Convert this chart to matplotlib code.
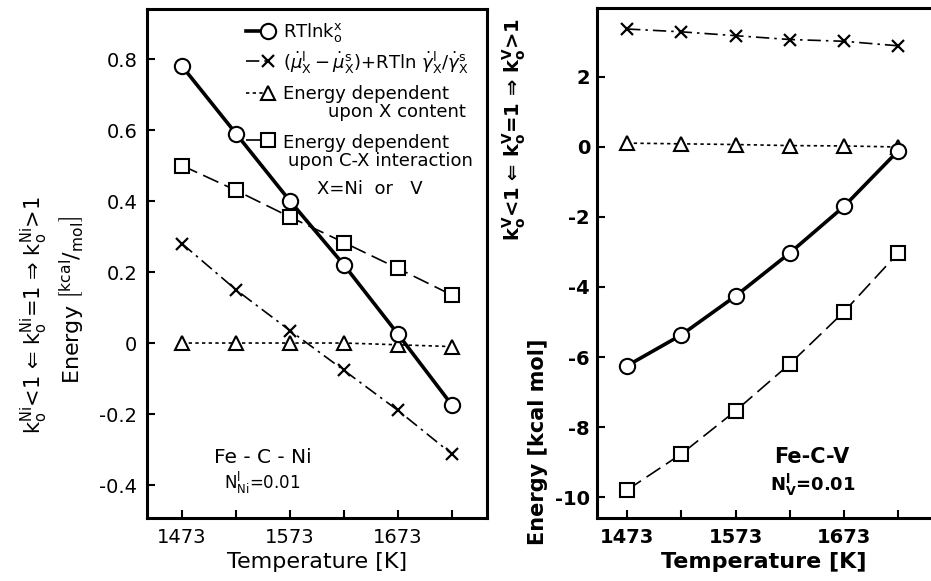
import matplotlib.pyplot as plt

plt.rcParams['font.family'] = ['DejaVu Sans']
plt.rcParams['mathtext.fontset'] = 'dejavusans'

temps = [1473, 1523, 1573, 1623, 1673, 1723]
x_ticklabels = ['1473', '', '1573', '', '1673', '']

# Fe-C-Ni, energies in kcal/mol
ni_rtlnk = [0.78, 0.59, 0.40, 0.22, 0.025, -0.175]
ni_chem = [0.28, 0.15, 0.035, -0.077, -0.19, -0.313]
ni_content = [0.0, 0.0, 0.0, 0.0, -0.005, -0.01]
ni_interact = [0.50, 0.43, 0.355, 0.283, 0.21, 0.135]
ni_yticks = [-0.4, -0.2, 0, 0.2, 0.4, 0.6, 0.8]
ni_yticklabels = ['-0.4', '-0.2', '0', '0.2', '0.4', '0.6', '0.8']

# Fe-C-V, energies in kcal/mol
v_rtlnk = [-6.25, -5.37, -4.26, -3.03, -1.70, -0.11]
v_chem = [3.37, 3.29, 3.18, 3.07, 3.02, 2.89]
v_content = [0.11, 0.09, 0.07, 0.04, 0.03, 0.0]
v_interact = [-9.80, -8.77, -7.54, -6.20, -4.71, -3.03]
v_yticks = [-10, -8, -6, -4, -2, 0, 2]
v_yticklabels = ['-10', '-8', '-6', '-4', '-2', '0', '2']

common = dict(color='black', mfc='white', mec='black', mew=1.5)
STYLES = {
    'rtlnk': dict(ls='-', lw=2.6, marker='o', ms=11),
    'chem': dict(ls=(0, (8, 3, 1.5, 3)), lw=1.2, marker='x', ms=8, mew=1.6),
    'content': dict(ls=(0, (2, 2)), lw=1.2, marker='^', ms=10),
    'interact': dict(ls=(0, (10, 4)), lw=1.2, marker='s', ms=10),
}


def style(key):
    s = dict(common)
    s.update(STYLES[key])
    return s


def setup_axes(ax, yticks, yticklabels, bold=False):
    weight = 'bold' if bold else 'normal'
    ax.set_xticks(temps)
    ax.set_xticklabels(x_ticklabels, fontsize=14, fontweight=weight)
    ax.set_yticks(yticks)
    ax.set_yticklabels(yticklabels, fontsize=14, fontweight=weight)
    ax.tick_params(direction='in', length=6, width=1.5, pad=7,
                   top=False, right=False)
    for sp in ax.spines.values():
        sp.set_linewidth(2.2)
    ax.set_xlabel('Temperature [K]', fontsize=16, fontweight=weight, labelpad=4)


fig = plt.figure(figsize=(9.31, 5.81), dpi=100)

# left panel: Fe-C-Ni
ax1 = fig.add_axes([0.1579, 0.1084, 0.3652, 0.8761])
ax1.plot(temps, ni_content, **style('content'), zorder=2)
ax1.plot(temps, ni_chem, **style('chem'), zorder=3)
ax1.plot(temps, ni_interact, **style('interact'), zorder=3)
ax1.plot(temps, ni_rtlnk, **style('rtlnk'), zorder=4)
ax1.set_xlim(1440.6, 1755.4)
ax1.set_ylim(-0.493, 0.941)
setup_axes(ax1, ni_yticks, ni_yticklabels)

ax1.text(0.341, 0.118, 'Fe - C - Ni', transform=ax1.transAxes,
         ha='center', va='center', fontsize=14.5)
ax1.text(0.338, 0.069, r'N$^{\mathrm{l}}_{\mathrm{Ni}}$=0.01', transform=ax1.transAxes,
         ha='center', va='center', fontsize=12)

# legend keys drawn inside the left panel
keys = [
    ('rtlnk', 0.957, [(0.40, 0.953, r'RTln$\mathrm{k}^{\mathrm{x}}_{\mathrm{o}}$')]),
    ('chem', 0.898, [(0.40, 0.895,
                      r'$(\dot{\mu}^{\mathrm{l}}_{\mathrm{X}}-\dot{\mu}^{\mathrm{s}}_{\mathrm{X}})$'
                      r'+RTln $\dot{\gamma}^{\mathrm{l}}_{\mathrm{X}}/\dot{\gamma}^{\mathrm{s}}_{\mathrm{X}}$')]),
    ('content', 0.835, [(0.40, 0.833, 'Energy dependent'),
                        (0.532, 0.797, 'upon X content')]),
    ('interact', 0.743, [(0.40, 0.737, 'Energy dependent'),
                         (0.415, 0.701, 'upon C-X interaction')]),
]
for key, ky, lines in keys:
    s = style(key)
    lw = s.pop('lw')
    ax1.plot([0.29, 0.355], [ky, ky], transform=ax1.transAxes, lw=lw,
             ls=s['ls'], color='black', clip_on=False, zorder=5)
    s.pop('ls')
    ax1.plot([0.355], [ky], transform=ax1.transAxes, ls='none', zorder=6, **s)
    for tx, ty, txt in lines:
        ax1.text(tx, ty, txt, transform=ax1.transAxes, ha='left', va='center',
                 fontsize=13)
ax1.text(0.656, 0.646, 'X=Ni  or   V', transform=ax1.transAxes,
         ha='center', va='center', fontsize=13)

fig.text(0.077, 1 - 300 / 581, r'Energy $\left[{}^{\mathrm{kcal}}/{}_{\mathrm{mol}}\right]$',
         rotation=90, ha='center', va='center', fontsize=16)
fig.text(0.037, 1 - 315 / 581,
         r'$\mathrm{k}^{\mathrm{Ni}}_{\mathrm{o}}$<1 ⇐ $\mathrm{k}^{\mathrm{Ni}}_{\mathrm{o}}$=1 ⇒ '
         r'$\mathrm{k}^{\mathrm{Ni}}_{\mathrm{o}}$>1',
         rotation=90, ha='center', va='center', fontsize=15)

# right panel: Fe-C-V
ax2 = fig.add_axes([0.6413, 0.1084, 0.3588, 0.8778])
ax2.plot(temps, v_content, **style('content'), zorder=2)
ax2.plot(temps, v_chem, **style('chem'), zorder=3)
ax2.plot(temps, v_interact, **style('interact'), zorder=3)
ax2.plot(temps, v_rtlnk, **style('rtlnk'), zorder=4)
ax2.set_xlim(1445.3, 1753.4)
ax2.set_ylim(-10.6, 3.97)
setup_axes(ax2, v_yticks, v_yticklabels, bold=True)
ax2.tick_params(axis='y', pad=5)
ax2.spines['right'].set_visible(False)

ax2.text(0.644, 0.12, 'Fe-C-V', transform=ax2.transAxes,
         ha='center', va='center', fontsize=15, fontweight='bold')
ax2.text(0.647, 0.065, r'N$^{\mathbf{l}}_{\mathbf{V}}$=0.01', transform=ax2.transAxes,
         ha='center', va='center', fontsize=13, fontweight='bold')

fig.text(538 / 931, 1 - 442 / 581, 'Energy [kcal mol]', rotation=90,
         ha='center', va='center', fontsize=15, fontweight='bold')
fig.text(514 / 931, 1 - 129 / 581,
         r'$\mathbf{k}^{\mathbf{V}}_{\mathbf{o}}$<1 ⇐ $\mathbf{k}^{\mathbf{V}}_{\mathbf{o}}$=1 ⇒ '
         r'$\mathbf{k}^{\mathbf{V}}_{\mathbf{o}}$>1',
         rotation=90, ha='center', va='center', fontsize=14, fontweight='bold')

fig.savefig('out.png', dpi=100)
